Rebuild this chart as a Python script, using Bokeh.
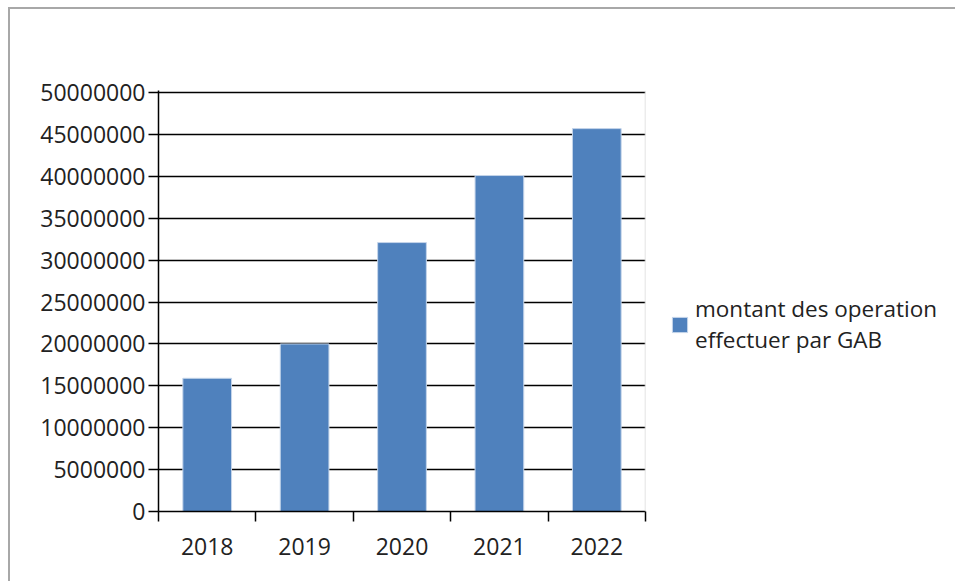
from bokeh.plotting import figure
from bokeh.models import (ColumnDataSource, FixedTicker, Range1d, Legend, LegendItem,
                          BasicTickFormatter, Span)
from bokeh.embed import file_html
from bokeh.resources import INLINE

years = ["2018", "2019", "2020", "2021", "2022"]
montants = [15900000, 20000000, 32100000, 40100000, 45700000]
y_ticks = [0, 5000000, 10000000, 15000000, 20000000, 25000000,
           30000000, 35000000, 40000000, 45000000, 50000000]
series_name = "montant des operation\neffectuer par GAB"

FONT = "Open Sans"
TXT = "#222222"

xpos = [i + 0.5 for i in range(len(years))]
src = ColumnDataSource(dict(x=xpos, top=montants, year=years))

p = figure(width=945, height=572, frame_width=487, frame_height=421,
           output_backend="svg", toolbar_location=None,
           x_range=Range1d(0, len(years)), y_range=Range1d(0, 50250000),
           min_border_left=148, min_border_right=310, min_border_top=81,
           min_border_bottom=70)
p.styles = {"margin-left": "8px", "margin-top": "7px",
            "border-left": "2px solid #a8a8a8", "border-top": "2px solid #a8a8a8"}

r = p.vbar(x="x", top="top", width=0.5, bottom=0, source=src,
           fill_color="#4f81bd", line_color="#c5d5ea", line_width=1)

p.background_fill_color = "white"
p.border_fill_color = "white"
p.outline_line_color = None
p.add_layout(Span(location=len(years), dimension="height",
                  line_color="#d9d9d9", line_width=1.5))

# grid
p.xgrid.grid_line_color = None
p.ygrid.ticker = FixedTicker(ticks=y_ticks)
p.ygrid.grid_line_color = "black"
p.ygrid.grid_line_width = 1.5

# y axis
ya = p.yaxis[0]
ya.ticker = FixedTicker(ticks=y_ticks)
ya.formatter = BasicTickFormatter(use_scientific=False)
ya.axis_line_color = "black"
ya.axis_line_width = 1.5
ya.major_tick_line_color = "black"
ya.major_tick_line_width = 1.5
ya.major_tick_out = 10
ya.major_tick_in = 0
ya.minor_tick_line_color = None
ya.major_label_text_font = FONT
ya.major_label_text_font_size = "23px"
ya.major_label_text_color = TXT
ya.major_label_standoff = 3

# x axis
xa = p.xaxis[0]
xa.ticker = FixedTicker(ticks=xpos, minor_ticks=list(range(len(years) + 1)))
xa.major_label_overrides = {x: y for x, y in zip(xpos, years)}
xa.axis_line_color = "black"
xa.axis_line_width = 1.5
xa.major_tick_line_color = None
xa.minor_tick_line_color = "black"
xa.minor_tick_line_width = 1.5
xa.minor_tick_out = 10
xa.minor_tick_in = 0
xa.major_label_text_font = FONT
xa.major_label_text_font_size = "23px"
xa.major_label_text_color = TXT
xa.major_label_standoff = 16

legend = Legend(items=[LegendItem(label=series_name, renderers=[r])],
                location=(25, 156), padding=0, margin=0, spacing=0,
                glyph_width=19, glyph_height=19, label_standoff=6,
                border_line_color=None, background_fill_alpha=0,
                label_text_font=FONT, label_text_font_size="22.5px",
                label_text_color=TXT, label_text_line_height=1.45,
                label_width=270)
p.add_layout(legend, "right")

open("out.html", "w").write(file_html(p, INLINE))
